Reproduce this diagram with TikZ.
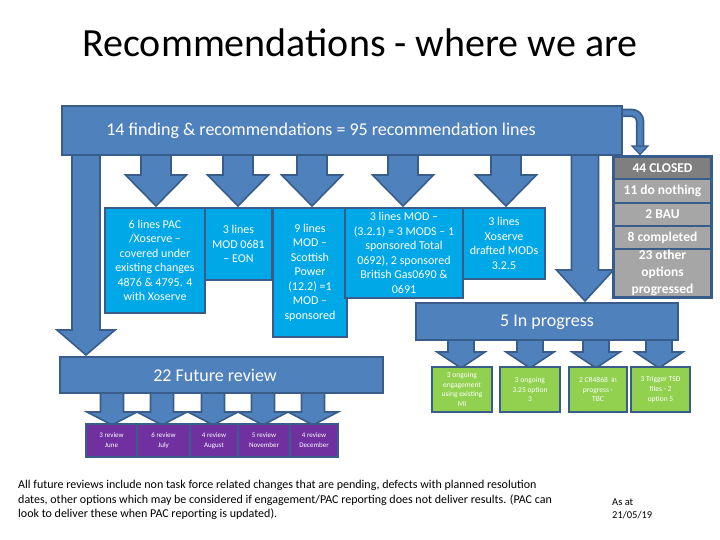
\documentclass[tikz,border=0pt]{standalone}
\usepackage{fontspec}
\setmainfont{Carlito}
\definecolor{bfill}{HTML}{4F81BD}
\definecolor{bedge}{HTML}{385D8A}
\definecolor{cfill}{HTML}{00A8E8}
\definecolor{gdark}{HTML}{7F7F7F}
\definecolor{glight}{HTML}{A6A6A6}
\definecolor{gfill}{HTML}{92D050}
\definecolor{pfill}{HTML}{7030A0}
\newcommand\bkarrow[6]{%
  \draw[barrow] ({#1-#5/2},#2) -- ({#1+#5/2},#2) -- ({#1+#5/2},#3) -- ({#1+#6/2},#3)
    -- (#1,#4) -- ({#1-#6/2},#3) -- ({#1-#5/2},#3) -- cycle;}
\tikzset{
  barrow/.style={fill=bfill, draw=bedge, line width=1.6pt, line join=miter},
  bar/.style={fill=bfill, draw=bedge, line width=1.8pt, inner sep=0pt},
  cbox/.style={fill=cfill, draw=bedge, line width=1.8pt, inner sep=0pt, text=white, align=center,
    font=\fontsize{12}{14.5}\selectfont},
  gbox/.style={fill=gfill, draw=bedge, line width=1.8pt, inner sep=0pt, text=white, align=center,
    font=\fontsize{7.5}{9.6}\selectfont},
  pbox/.style={fill=pfill, draw=bedge, line width=1.8pt, inner sep=0pt, text=white, align=center,
    font=\fontsize{7}{10}\selectfont},
  greybox/.style={inner sep=0pt, text=white, align=center, font=\bfseries\fontsize{13.5}{17}\selectfont},
  bartext/.style={text=white, font=\fontsize{18}{20}\selectfont, inner sep=0pt},
}
\begin{document}
\begin{tikzpicture}[x=1pt,y=-1pt]
\useasboundingbox[fill=white] (0,0) rectangle (720,540);

\node (title) at (360,43) {\fontsize{40}{44}\selectfont Recommendations - where we are};

% long arrows
\bkarrow{86}{150}{330}{355}{28}{58}
\bkarrow{585}{150}{270}{301}{27}{57}
% short arrows from top bar
\bkarrow{156}{150}{175}{206}{30}{61}
\bkarrow{238}{150}{175}{206}{30}{61}
\bkarrow{312}{150}{175}{206}{30}{61}
\bkarrow{403}{150}{175}{206}{30}{61}
\bkarrow{506}{150}{175}{206}{30}{61}
% curved arrow to closed column
\draw[bedge, line width=8.5pt, rounded corners=8pt] (615,113) -- (640,113) -- (640,148);
\draw[bfill, line width=5pt, rounded corners=8pt] (615,113) -- (640,113) -- (640,148.5);
\draw[barrow, line width=1.2pt] (632,146) -- (648,146) -- (640,154.5) -- cycle;

% top bar
\node[bar, minimum width=560pt, minimum height=49pt] (topbar) at (342,130.5) {};
\node[bartext] (toptext) at (321,131) {14 finding \& recommendations = 95 recommendation lines};

% cyan boxes
\node[cbox, minimum width=100pt, minimum height=105pt] (c1) at (155,260.5)
  {6 lines PAC\\/Xoserve --\\covered under\\existing changes\\4876 \& 4795. 4\\with Xoserve};
\node[cbox, minimum width=67pt, minimum height=72pt] (c2) at (238.5,244)
  {3 lines\\MOD 0681\\-- EON};
\node[cbox, minimum width=74pt, minimum height=129pt] (c3) at (310,272.5)
  {9 lines\\MOD --\\Scottish\\Power\\(12.2) =1\\MOD --\\sponsored};
\node[cbox, minimum width=118pt, minimum height=90pt] (c4) at (404,253)
  {3 lines MOD --\\(3.2.1) = 3 MODS -- 1\\sponsored Total\\0692), 2 sponsored\\British Gas0690 \&\\0691};
\node[cbox, minimum width=82pt, minimum height=71pt] (c5) at (504,243.5)
  {3 lines\\Xoserve\\drafted MODs\\3.2.5};

% grey column
\fill[bedge] (612,155) rectangle (713,299);
\node[greybox, fill=gdark, minimum width=95pt, minimum height=20pt] (closed) at (662.5,168) {44 CLOSED};
\node[greybox, fill=glight, minimum width=95pt, minimum height=22pt] (nothing) at (662.5,191) {11 do nothing};
\node[greybox, fill=glight, minimum width=95pt, minimum height=21pt] (bau) at (662.5,214.5) {2 BAU};
\node[greybox, fill=glight, minimum width=95pt, minimum height=21pt] (completed) at (662.5,237.5) {8 completed};
\node[greybox, fill=glight, minimum width=95pt, minimum height=46pt] (other) at (662.5,273) {23 other\\options\\progressed};

% in progress arrows
\bkarrow{461}{336}{352}{368}{26}{48}
\bkarrow{530}{336}{352}{368}{26}{48}
\bkarrow{596}{336}{352}{368}{26}{48}
\bkarrow{659}{336}{352}{368}{26}{48}
\node[bar, minimum width=262pt, minimum height=37pt] (inprog) at (547,321.5) {};
\node[bartext] (inprogtext) at (547,322) {5 In progress};

% green boxes
\node[gbox, minimum width=60pt, minimum height=45pt] (g1) at (462,389.5) {3 ongoing\\engagement\\using existing\\MI};
\node[gbox, minimum width=60pt, minimum height=45pt] (g2) at (530,389.5) {3 ongoing\\3.25 option\\3};
\node[gbox, minimum width=58pt, minimum height=45pt] (g3) at (598,389.5) {2 CR4868\ \ in\\progress -\\TBC};
\node[gbox, minimum width=59pt, minimum height=45pt] (g4) at (660.5,389.5) {3 Trigger TSD\\files - 2\\option 5};

% future review arrows
\bkarrow{112}{390}{412}{425}{23}{50}
\bkarrow{162}{390}{412}{425}{23}{50}
\bkarrow{213}{390}{412}{425}{23}{50}
\bkarrow{263}{390}{412}{425}{23}{50}
\bkarrow{313}{390}{412}{425}{23}{50}
\node[bar, minimum width=323pt, minimum height=36pt] (future) at (221.5,375) {};
\node[bartext] (futuretext) at (215,375.5) {22 Future review};

% purple boxes
\node[pbox, minimum width=51pt, minimum height=33pt] (p1) at (111.5,440.5) {3 review\\June};
\node[pbox, minimum width=53pt, minimum height=33pt] (p2) at (163.5,440.5) {6 review\\July};
\node[pbox, minimum width=48pt, minimum height=33pt] (p3) at (214,440.5) {4 review\\August};
\node[pbox, minimum width=52pt, minimum height=33pt] (p4) at (264,440.5) {5 review\\November};
\node[pbox, minimum width=48pt, minimum height=33pt] (p5) at (314,440.5) {4 review\\December};

% bottom notes
\node[anchor=west, align=left, inner sep=0pt, font=\fontsize{12}{14.5}\selectfont] (note) at (18,500)
  {All future reviews include non task force related changes that are pending, defects with planned resolution\\
   dates, other options which may be considered if engagement/PAC reporting does not deliver results. (PAC can\\
   look to deliver these when PAC reporting is updated).};
\node[anchor=west, align=left, inner sep=0pt, font=\fontsize{10.5}{13}\selectfont] (asat) at (612,508.5)
  {As at\\21/05/19};
\end{tikzpicture}
\end{document}
